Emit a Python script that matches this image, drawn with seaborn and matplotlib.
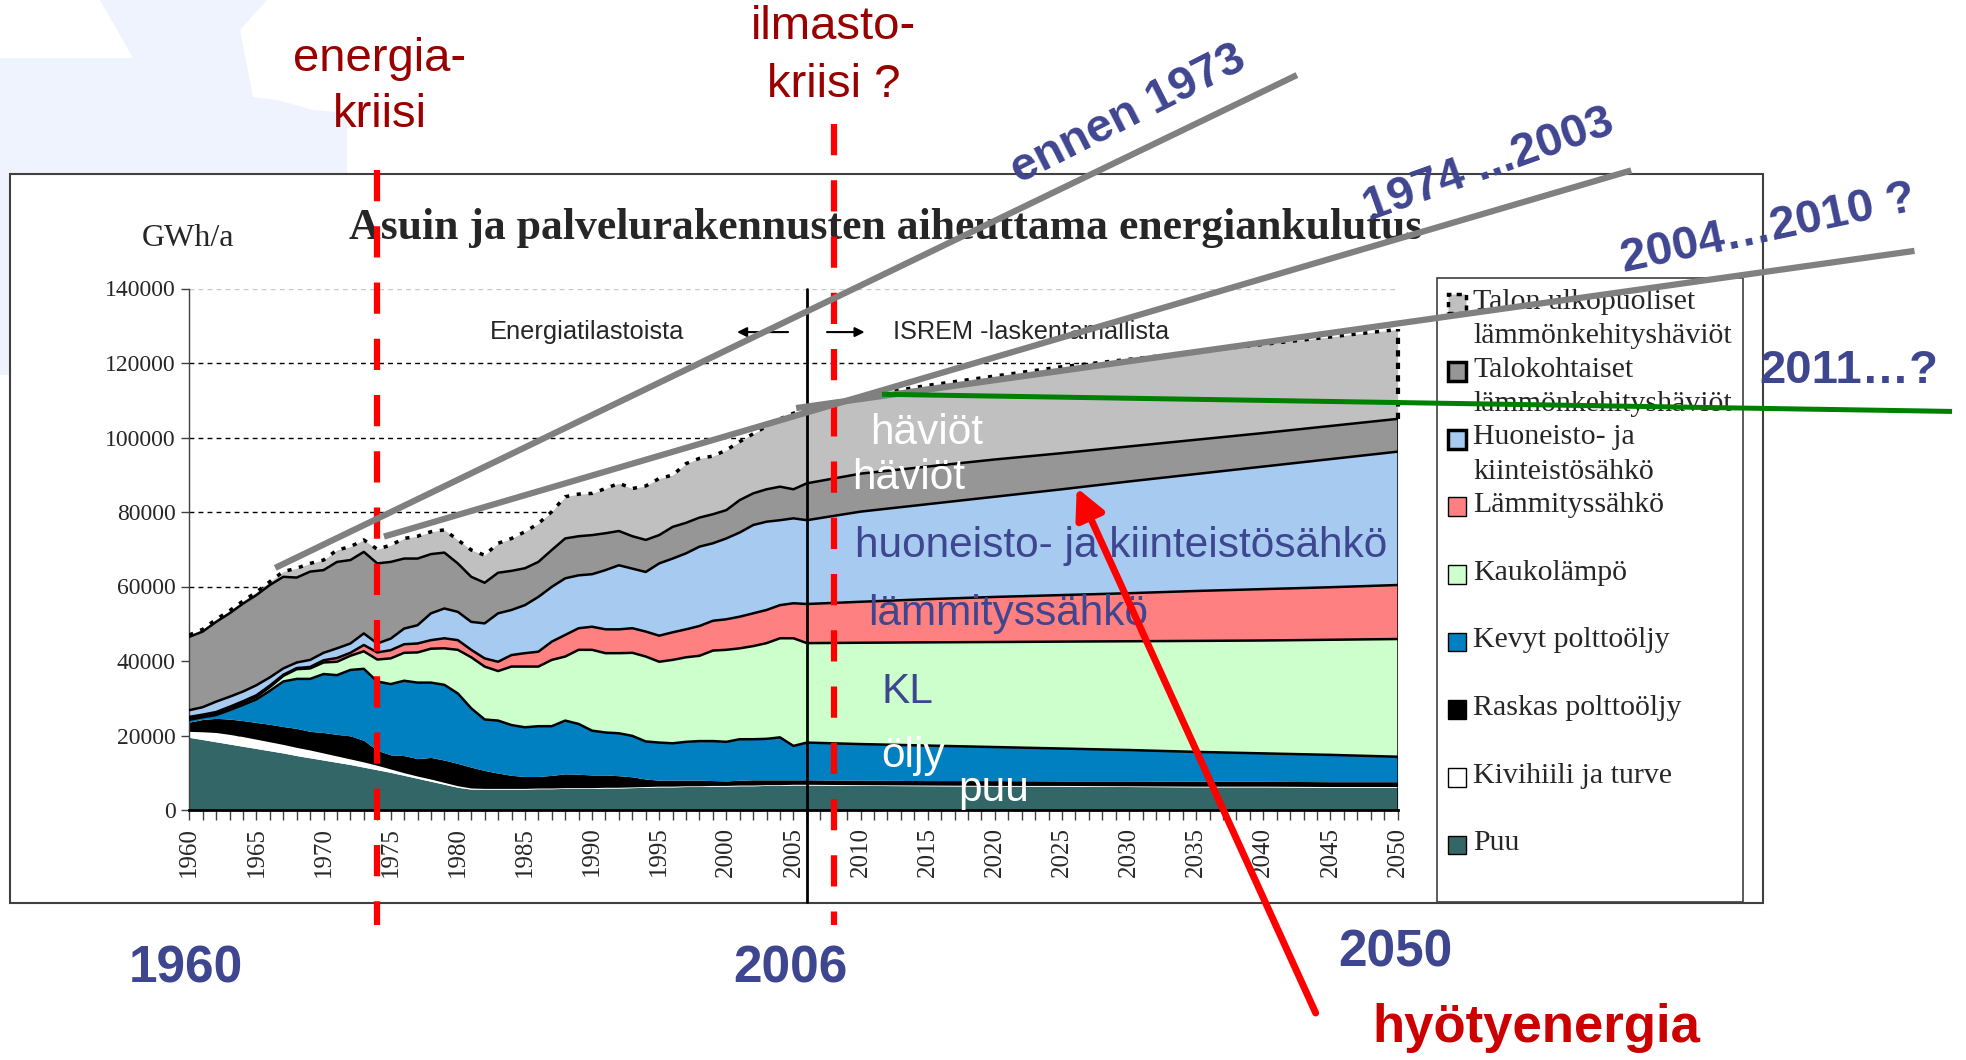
import seaborn as sns
import matplotlib.pyplot as plt
import matplotlib.patches as mpatches
from matplotlib.legend_handler import HandlerPatch

# --- data: cumulative tops of the stacked areas (GWh/a) ---
years = list(range(1960, 2007)) + [2010, 2015, 2020, 2025, 2030, 2035, 2040, 2045, 2050]

puu = [19500, 18900, 18300, 17700, 17100, 16500, 15900, 15300, 14600, 14000,
       13400, 12800, 12200, 11500, 10800, 10100, 9300, 8500, 7700, 6900,
       6100, 5600, 5600, 5600, 5600, 5600, 5700, 5700, 5800, 5800,
       5800, 5900, 5900, 6000, 6100, 6200, 6200, 6300, 6300, 6400,
       6400, 6500, 6500, 6600, 6600, 6700, 6700,
       6600, 6500, 6400, 6400, 6300, 6200, 6200, 6100, 6100]
kivihiili = [21100, 21000, 20800, 20300, 19700, 19000, 18300, 17600, 16800, 16100,
             15300, 14500, 13700, 12900, 12000, 11000, 10000, 9100, 8300, 7400,
             6500, 5900, 5800, 5800, 5800, 5800, 5900, 5900, 6000, 6000,
             6000, 6100, 6100, 6200, 6300, 6400, 6400, 6500, 6500, 6600,
             6600, 6700, 6700, 6800, 6800, 6900, 6900,
             6800, 6700, 6600, 6600, 6500, 6400, 6400, 6300, 6300]
raskas = [23600, 24300, 24600, 24400, 24000, 23500, 23000, 22400, 21900, 21100,
          20800, 20300, 19900, 18700, 16000, 14800, 14600, 13800, 14100, 13400,
          12500, 11500, 10600, 9900, 9300, 9000, 9000, 9300, 9700, 9600,
          9400, 9400, 9200, 8900, 8300, 8000, 8000, 8000, 8000, 7900,
          7800, 8000, 8100, 8100, 8100, 8100, 8100,
          8000, 7900, 7900, 7800, 7800, 7700, 7700, 7600, 7600]
kevyt = [24200, 24900, 25500, 26800, 28200, 29700, 32000, 34500, 35200, 35200,
         36500, 36200, 37600, 37900, 34500, 33800, 34700, 34200, 34200, 33600,
         31300, 27300, 24300, 24000, 22800, 22200, 22500, 22500, 24000, 23100,
         21300, 20800, 20600, 19900, 18400, 18100, 17900, 18300, 18500, 18500,
         18300, 19000, 19000, 19100, 19500, 17200, 18100,
         17700, 17300, 16900, 16500, 16100, 15600, 15200, 14800, 14300]
kaukolampo = [24700, 25300, 25900, 27300, 28800, 30400, 33000, 36000, 37800, 38000,
              39600, 39800, 41400, 42600, 40400, 40700, 42200, 42300, 43300, 43400,
              43000, 41000, 38500, 37300, 38500, 38500, 38500, 40300, 41200, 43000,
              43000, 42100, 42100, 42200, 41200, 39800, 40300, 41000, 41400, 42800,
              43000, 43400, 44000, 44800, 46100, 46100, 44800,
              44900, 45000, 45100, 45200, 45300, 45400, 45500, 45700, 45900]
lammityssahko = [25000, 25600, 26300, 27700, 29200, 30800, 33400, 36300, 38100, 38400,
                 40200, 40800, 42200, 44300, 42300, 42900, 44500, 44700, 45600, 46100,
                 45600, 43000, 40700, 39800, 41600, 42100, 42500, 45200, 47000, 48800,
                 49200, 48500, 48500, 48800, 47900, 46800, 47700, 48500, 49400, 50800,
                 51200, 51900, 52800, 53700, 55000, 55500, 55300,
                 55900, 56600, 57200, 57700, 58200, 58800, 59300, 59800, 60400]
huoneisto = [26800, 27600, 29100, 30400, 31800, 33500, 35600, 38000, 39600, 40300,
             42200, 43400, 44700, 47400, 44700, 46000, 48700, 49600, 52800, 54100,
             53200, 50500, 50100, 52800, 53700, 55000, 57200, 59900, 62200, 63000,
             63300, 64400, 65700, 64800, 63900, 66200, 67500, 68900, 70700, 71600,
             72900, 74500, 76500, 77400, 77800, 78300, 77800,
             80100, 82100, 84100, 86100, 88200, 90200, 92200, 94200, 96200]
talokohtaiset = [46500, 47900, 50500, 52800, 55400, 57700, 60400, 62600, 62400, 64000,
                 64400, 66600, 67100, 69300, 66200, 66600, 67500, 67500, 68700, 69100,
                 66200, 62600, 61000, 63700, 64200, 64900, 66600, 69800, 72900, 73500,
                 73800, 74300, 74900, 73500, 72500, 73800, 76000, 77100, 78500, 79400,
                 80500, 83200, 85000, 86100, 86800, 86100, 87700,
                 90300, 92200, 94100, 95800, 97600, 99400, 101200, 103100, 105000]
ulkopuoliset = [47000, 48500, 51200, 53500, 56100, 58500, 61300, 64000, 64900, 66200,
                67100, 69800, 70700, 72500, 70000, 71100, 72900, 73500, 74700, 75200,
                72500, 69800, 68400, 71600, 72900, 74700, 76900, 80100, 84100, 84800,
                85000, 86300, 87700, 86300, 87000, 89000, 89900, 93000, 94400, 95000,
                96600, 98900, 101000, 103000, 105000, 106500, 108000,
                111000, 114000, 116500, 119000, 121000, 123000, 125000, 127000, 129000]

layer_names = ["Puu", "Kivihiili ja turve", "Raskas polttoöljy", "Kevyt polttoöljy",
               "Kaukolämpö", "Lämmityssähkö", "Huoneisto- ja\nkiinteistösähkö",
               "Talokohtaiset\nlämmönkehityshäviöt", "Talon ulkopuoliset\nlämmönkehityshäviöt"]
layer_tops = [puu, kivihiili, raskas, kevyt, kaukolampo, lammityssahko, huoneisto,
              talokohtaiset, ulkopuoliset]
layer_colors = ["#336666", "#FFFFFF", "#000000", "#0080C0", "#CCFFCC", "#FF8080",
                "#A6CAF0", "#969696", "#C0C0C0"]

y_ticks = [0, 20000, 40000, 60000, 80000, 100000, 120000, 140000]

# annotation overlays (year, GWh/a)
trend_lines = [((1966.4, 65000), (2042.5, 197300)),
               ((1974.5, 73400), (2067.4, 171700)),
               ((2005.2, 107900), (2088.5, 150100))]
green_line = ((2011.6, 111600), (2091.3, 107000))
crisis_years = [1974.0, 2008.0]
crisis_tops = [171800, 184200]

SLATE = "#3F4690"
SERIF = "Liberation Serif"
SANS = "Liberation Sans"

sns.set_theme(style="white")
plt.rcParams["font.family"] = [SANS, "DejaVu Sans"]

fig = plt.figure(figsize=(19.66, 10.60), dpi=100)
W, H = 1966, 1060

# slide background shape and chart frame
bg = mpatches.Polygon([(100 / W, 1), (267 / W, 1), (240 / W, 1 - 30 / H), (253 / W, 1 - 97 / H),
                       (277 / W, 1 - 100 / H), (313 / W, 1 - 110 / H), (347 / W, 1 - 113 / H),
                       (347 / W, 1 - 175 / H), (9 / W, 1 - 175 / H), (9 / W, 1 - 375 / H),
                       (0, 1 - 375 / H), (0, 1 - 58 / H), (133 / W, 1 - 58 / H)],
                      closed=True, transform=fig.transFigure, fc="#EEF3FD", ec="none", zorder=-2)
fig.patches.append(bg)
frame = mpatches.Rectangle((10 / W, 1 - 903 / H), 1753 / W, 729 / H, transform=fig.transFigure,
                           fc="white", ec="#404040", lw=1.5, zorder=-1)
fig.patches.append(frame)

ax = fig.add_axes([189.3 / W, 1 - 810 / H, 1208.3 / W, 521.5 / H])
ax.set_facecolor("none")

# stacked areas
lower = [0] * len(years)
for top, col in zip(layer_tops, layer_colors):
    ax.fill_between(years, lower, top, color=col, lw=0, zorder=2)
    lower = top

# boundary lines
for top in [kevyt, kaukolampo, lammityssahko, huoneisto, talokohtaiset]:
    sns.lineplot(x=years, y=top, ax=ax, color="black", linewidth=1.8, zorder=3)
sns.lineplot(x=years, y=ulkopuoliset, ax=ax, color="black", linewidth=2.5,
             linestyle=(0, (1.2, 2.2)), zorder=3)
ax.plot([years[-1], years[-1]], [0, talokohtaiset[-1]], color="black", lw=1.8, zorder=3)
ax.plot([years[-1], years[-1]], [talokohtaiset[-1], ulkopuoliset[-1]], color="black", lw=3,
        linestyle=(0, (1.5, 1.5)), zorder=3, clip_on=False)

ax.set_xlim(1960, 2050)
ax.set_ylim(0, 140000)
ax.set_yticks(y_ticks)
ax.set_yticklabels([str(v) for v in y_ticks], fontfamily=SERIF, fontsize=17)
ax.set_xticks(range(1960, 2051, 5))
ax.set_xticks(range(1960, 2051), minor=True)
ax.set_xticklabels([str(v) for v in range(1960, 2051, 5)], rotation=90,
                   fontfamily=SERIF, fontsize=18)
ax.tick_params(axis="x", which="both", direction="out", length=7, width=1, color="#404040",
               bottom=True, pad=5)
ax.tick_params(axis="y", direction="out", length=6, width=1, color="#404040", left=True, pad=4)
ax.yaxis.grid(True, color="black", lw=1, linestyle=(0, (3.5, 3)))
ax.set_axisbelow(True)
grid = ax.get_ygridlines()
grid[0].set_visible(False)
grid[-1].set_color("#C8C8C8")
for s in ["top", "right"]:
    ax.spines[s].set_visible(False)
ax.spines["left"].set_color("#404040")
ax.spines["left"].set_linewidth(1)
ax.spines["bottom"].set_color("black")
ax.spines["bottom"].set_linewidth(2)
ax.spines["bottom"].set_zorder(4)

# statistics / model divider
ax.plot([2006, 2006], [-24700, 140000], color="black", lw=2, zorder=4, clip_on=False)
ax.text(1989.6, 128300, "Energiatilastoista", fontsize=18.4, ha="center", va="center", zorder=4)
ax.text(2012.4, 128300, "ISREM -laskentamallista", fontsize=18.2, ha="left", va="center", zorder=4)
ax.annotate("", xy=(2000.8, 128300), xytext=(2004.6, 128300),
            arrowprops=dict(arrowstyle="-|>", color="black", lw=1.5, mutation_scale=14,
                            shrinkA=0, shrinkB=0), zorder=4)
ax.annotate("", xy=(2010.3, 128300), xytext=(2007.5, 128300),
            arrowprops=dict(arrowstyle="-|>", color="black", lw=1.5, mutation_scale=14,
                            shrinkA=0, shrinkB=0), zorder=4)

# labels inside the areas
ax.text(2014.9, 101300, "häviöt", color="white", fontsize=30.5, ha="center", va="center", zorder=5)
ax.text(2013.6, 89200, "häviöt", color="white", fontsize=30.5, ha="center", va="center", zorder=5)
ax.text(2029.4, 71000, "huoneisto- ja kiinteistösähkö", color=SLATE, fontsize=30.5,
        ha="center", va="center", zorder=5)
ax.text(2021.0, 52500, "lämmityssähkö", color=SLATE, fontsize=30.5, ha="center", va="center", zorder=5)
ax.text(2013.5, 31700, "KL", color=SLATE, fontsize=30.5, ha="center", va="center", zorder=5)
ax.text(2013.9, 14500, "öljy", color="white", fontsize=30.5, ha="center", va="center", zorder=5)
ax.text(2019.9, 5400, "puu", color="white", fontsize=30.5, ha="center", va="center", zorder=5)

# chart title and unit
ax.text(886 / W, 1 - 228 / H, "Asuin ja palvelurakennusten aiheuttama energiankulutus",
        transform=fig.transFigure, fontfamily=SERIF, fontweight="bold", fontsize=31.5,
        ha="center", va="center", zorder=1)
ax.text(188 / W, 1 - 238 / H, "GWh/a", transform=fig.transFigure, fontfamily=SERIF,
        fontsize=23, ha="center", va="center", zorder=1)


# legend: handle aligned with the first line of each label
def top_box(legend, orig_handle, xdescent, ydescent, width, height, fontsize):
    return mpatches.Rectangle((-xdescent, -ydescent + 0.5 * fontsize), width, height)


handles = []
labels = []
for name, col in zip(layer_names[::-1], layer_colors[::-1]):
    if name.startswith("Talon"):
        h = mpatches.Patch(fc=col, ec="black", lw=2.5, linestyle=(0, (1.5, 1.5)))
    elif name.startswith(("Talokohtaiset", "Huoneisto")):
        h = mpatches.Patch(fc=col, ec="black", lw=2.5)
    else:
        h = mpatches.Patch(fc=col, ec="black", lw=1)
    handles.append(h)
    labels.append(name if "\n" in name else name + "\n ")
leg = ax.legend(handles, labels, loc="upper left", bbox_to_anchor=(1437 / W, 1 - 278 / H),
                bbox_transform=fig.transFigure, prop={"family": SERIF, "size": 21.5},
                handlelength=0.6, handleheight=0.6, handletextpad=0.25, borderpad=0.37,
                labelspacing=0.25, borderaxespad=0, frameon=True, fancybox=False,
                edgecolor="#404040", framealpha=1,
                handler_map={mpatches.Patch: HandlerPatch(patch_func=top_box)})
leg.get_frame().set_linewidth(1.2)
leg.set_zorder(6)
for t in leg.get_texts():
    t.set_linespacing(1.41)

# overlays: crises, trend lines, arrow
for cx, ct in zip(crisis_years, crisis_tops):
    ax.plot([cx, cx], [ct, -30900], color="#FF0000", lw=4.5, linestyle=(0, (5, 4)),
            solid_capstyle="butt", dash_capstyle="butt", zorder=10, clip_on=False)
for (x0, y0), (x1, y1) in trend_lines:
    ax.plot([x0, x1], [y0, y1], color="#808080", lw=4.5, solid_capstyle="butt",
            zorder=11, clip_on=False)
ax.plot([green_line[0][0], green_line[1][0]], [green_line[0][1], green_line[1][1]],
        color="#008000", lw=3.6, solid_capstyle="butt", zorder=11, clip_on=False)
ax.annotate("", xy=(2026.1, 86500), xytext=(2043.9, -54500),
            arrowprops=dict(arrowstyle="-|>", color="#FF0000", lw=5, mutation_scale=45,
                            shrinkA=0, shrinkB=0), zorder=12, annotation_clip=False)

ftxt = dict(transform=fig.transFigure, ha="center", va="center", zorder=13)
ax.text(380 / W, 1 - 59 / H, "energia-", color="#990000", fontsize=34, **ftxt)
ax.text(380 / W, 1 - 115 / H, "kriisi", color="#990000", fontsize=34, **ftxt)
ax.text(834 / W, 1 - 27 / H, "ilmasto-", color="#990000", fontsize=34, **ftxt)
ax.text(834 / W, 1 - 85 / H, "kriisi ?", color="#990000", fontsize=34, **ftxt)
ax.text(1128 / W, 1 - 115 / H, "ennen 1973", color=SLATE, fontsize=34, fontweight="bold",
        rotation=27, rotation_mode="anchor", **ftxt)
ax.text(1489 / W, 1 - 165 / H, "1974 ...2003", color=SLATE, fontsize=34, fontweight="bold",
        rotation=19.7, rotation_mode="anchor", **ftxt)
ax.text(1768 / W, 1 - 229 / H, "2004…2010 ?", color=SLATE, fontsize=34, fontweight="bold",
        rotation=12, rotation_mode="anchor", **ftxt)
ax.text(1849 / W, 1 - 371 / H, "2011…?", color=SLATE, fontsize=34, fontweight="bold", **ftxt)
ax.text(186 / W, 1 - 969 / H, "1960", color=SLATE, fontsize=37, fontweight="bold", **ftxt)
ax.text(790 / W, 1 - 969 / H, "2006", color=SLATE, fontsize=37, fontweight="bold", **ftxt)
ax.text(1395 / W, 1 - 953 / H, "2050", color=SLATE, fontsize=37, fontweight="bold", **ftxt)
ax.text(1536 / W, 1 - 1028 / H, "hyötyenergia", color="#CC0000", fontsize=38,
        fontweight="bold", **ftxt)

fig.savefig("out.png", dpi=100, facecolor="white")
